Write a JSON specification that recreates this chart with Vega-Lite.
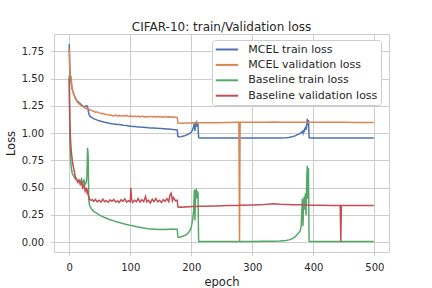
{
  "$schema": "https://vega.github.io/schema/vega-lite/v6.json",
  "width": 335,
  "height": 218,
  "autosize": "none",
  "padding": {"left": 54, "top": 34, "right": 43, "bottom": 36},
  "background": "white",
  "title": {"text": "CIFAR-10: train/Validation loss", "fontSize": 12, "font": "DejaVu Sans", "fontWeight": "normal", "color": "#262626", "offset": 0, "dy": -0.5, "anchor": "middle"},
  "data": {"values": [
    {"e":0,"mt":1.817,"mv":1.77,"bt":1.53,"bv":1.50},
    {"e":1,"mt":1.60,"mv":1.56,"bt":0.95,"bv":1.12},
    {"e":2,"mt":1.52,"mv":1.50,"bt":0.78,"bv":0.95},
    {"e":3,"mt":1.47,"mv":1.52,"bt":0.70,"bv":0.86},
    {"e":4,"mt":1.43,"mv":1.45,"bt":0.66,"bv":0.80},
    {"e":5,"mt":1.40,"mv":1.41,"bt":0.63,"bv":0.75},
    {"e":6,"mt":1.38,"mv":1.38,"bt":0.62,"bv":0.71},
    {"e":8,"mt":1.35,"mv":1.35,"bt":0.60,"bv":0.66},
    {"e":10,"mt":1.32,"mv":1.32,"bt":0.58,"bv":0.60},
    {"e":12,"mt":1.30,"mv":1.30,"bt":0.57,"bv":0.58},
    {"e":14,"mt":1.29,"mv":1.28,"bt":0.56,"bv":0.55},
    {"e":16,"mt":1.28,"mv":1.27,"bt":0.56,"bv":0.57},
    {"e":18,"mt":1.27,"mv":1.26,"bt":0.55,"bv":0.53},
    {"e":20,"mt":1.26,"mv":1.25,"bt":0.58,"bv":0.55},
    {"e":22,"mt":1.25,"mv":1.245,"bt":0.54,"bv":0.50},
    {"e":24,"mt":1.24,"mv":1.235,"bt":0.57,"bv":0.53},
    {"e":26,"mt":1.245,"mv":1.23,"bt":0.53,"bv":0.47},
    {"e":28,"mt":1.25,"mv":1.225,"bt":0.55,"bv":0.50},
    {"e":29,"mt":1.25,"mv":1.22,"bt":0.60,"bv":0.46},
    {"e":30,"mt":1.24,"mv":1.225,"bt":0.865,"bv":0.47},
    {"e":31,"mt":1.21,"mv":1.22,"bt":0.80,"bv":0.43},
    {"e":32,"mt":1.18,"mv":1.22,"bt":0.39,"bv":0.42},
    {"e":33,"mt":1.165,"mv":1.215,"bt":0.35,"bv":0.40},
    {"e":34,"mt":1.155,"mv":1.215,"bt":0.33,"bv":0.39},
    {"e":36,"mt":1.146,"mv":1.208,"bt":0.31,"bv":0.385},
    {"e":38,"mt":1.139,"mv":1.204,"bt":0.295,"bv":0.39},
    {"e":40,"mt":1.133,"mv":1.200,"bt":0.284,"bv":0.375},
    {"e":43,"mt":1.126,"mv":1.192,"bt":0.274,"bv":0.392},
    {"e":46,"mt":1.119,"mv":1.194,"bt":0.262,"bv":0.37},
    {"e":49,"mt":1.114,"mv":1.185,"bt":0.251,"bv":0.385},
    {"e":52,"mt":1.108,"mv":1.180,"bt":0.242,"bv":0.368},
    {"e":55,"mt":1.105,"mv":1.182,"bt":0.235,"bv":0.395},
    {"e":58,"mt":1.100,"mv":1.172,"bt":0.227,"bv":0.372},
    {"e":61,"mt":1.097,"mv":1.170,"bt":0.220,"bv":0.382},
    {"e":64,"mt":1.092,"mv":1.165,"bt":0.213,"bv":0.365},
    {"e":67,"mt":1.089,"mv":1.166,"bt":0.207,"bv":0.388},
    {"e":70,"mt":1.086,"mv":1.161,"bt":0.201,"bv":0.375},
    {"e":73,"mt":1.084,"mv":1.158,"bt":0.196,"bv":0.392},
    {"e":76,"mt":1.082,"mv":1.165,"bt":0.190,"bv":0.37},
    {"e":79,"mt":1.080,"mv":1.156,"bt":0.186,"bv":0.38},
    {"e":82,"mt":1.078,"mv":1.162,"bt":0.181,"bv":0.366},
    {"e":85,"mt":1.076,"mv":1.154,"bt":0.176,"bv":0.39},
    {"e":88,"mt":1.073,"mv":1.160,"bt":0.172,"bv":0.375},
    {"e":91,"mt":1.071,"mv":1.157,"bt":0.167,"bv":0.398},
    {"e":94,"mt":1.069,"mv":1.163,"bt":0.163,"bv":0.368},
    {"e":97,"mt":1.066,"mv":1.152,"bt":0.159,"bv":0.382},
    {"e":100,"mt":1.063,"mv":1.158,"bt":0.155,"bv":0.37},
    {"e":101,"mt":1.063,"mv":1.160,"bt":0.154,"bv":0.50},
    {"e":102,"mt":1.062,"mv":1.154,"bt":0.153,"bv":0.40},
    {"e":104,"mt":1.061,"mv":1.150,"bt":0.151,"bv":0.365},
    {"e":107,"mt":1.060,"mv":1.157,"bt":0.147,"bv":0.385},
    {"e":110,"mt":1.058,"mv":1.151,"bt":0.143,"bv":0.372},
    {"e":113,"mt":1.057,"mv":1.156,"bt":0.140,"bv":0.40},
    {"e":116,"mt":1.055,"mv":1.149,"bt":0.137,"bv":0.368},
    {"e":119,"mt":1.054,"mv":1.155,"bt":0.134,"bv":0.39},
    {"e":122,"mt":1.053,"mv":1.152,"bt":0.131,"bv":0.372},
    {"e":125,"mt":1.051,"mv":1.146,"bt":0.128,"bv":0.42},
    {"e":127,"mt":1.051,"mv":1.153,"bt":0.127,"bv":0.37},
    {"e":130,"mt":1.049,"mv":1.150,"bt":0.124,"bv":0.385},
    {"e":133,"mt":1.048,"mv":1.154,"bt":0.122,"bv":0.36},
    {"e":136,"mt":1.047,"mv":1.147,"bt":0.121,"bv":0.395},
    {"e":139,"mt":1.046,"mv":1.152,"bt":0.120,"bv":0.372},
    {"e":142,"mt":1.045,"mv":1.148,"bt":0.119,"bv":0.40},
    {"e":145,"mt":1.044,"mv":1.153,"bt":0.118,"bv":0.37},
    {"e":148,"mt":1.043,"mv":1.146,"bt":0.118,"bv":0.385},
    {"e":151,"mt":1.042,"mv":1.150,"bt":0.117,"bv":0.365},
    {"e":154,"mt":1.040,"mv":1.145,"bt":0.118,"bv":0.39},
    {"e":157,"mt":1.039,"mv":1.151,"bt":0.119,"bv":0.375},
    {"e":160,"mt":1.038,"mv":1.147,"bt":0.118,"bv":0.40},
    {"e":163,"mt":1.037,"mv":1.150,"bt":0.120,"bv":0.372},
    {"e":165,"mt":1.036,"mv":1.145,"bt":0.119,"bv":0.43},
    {"e":167,"mt":1.035,"mv":1.149,"bt":0.121,"bv":0.45},
    {"e":169,"mt":1.034,"mv":1.146,"bt":0.120,"bv":0.38},
    {"e":171,"mt":1.033,"mv":1.148,"bt":0.121,"bv":0.41},
    {"e":174,"mt":1.032,"mv":1.145,"bt":0.120,"bv":0.38},
    {"e":177,"mt":1.030,"mv":1.143,"bt":0.119,"bv":0.385},
    {"e":178,"mt":0.970,"mv":1.094,"bt":0.049,"bv":0.325},
    {"e":180,"mt":0.965,"mv":1.092,"bt":0.045,"bv":0.322},
    {"e":183,"mt":0.968,"mv":1.090,"bt":0.050,"bv":0.324},
    {"e":186,"mt":0.972,"mv":1.091,"bt":0.055,"bv":0.322},
    {"e":189,"mt":0.976,"mv":1.092,"bt":0.062,"bv":0.325},
    {"e":192,"mt":0.982,"mv":1.092,"bt":0.070,"bv":0.323},
    {"e":195,"mt":0.990,"mv":1.093,"bt":0.085,"bv":0.326},
    {"e":198,"mt":1.000,"mv":1.093,"bt":0.110,"bv":0.325},
    {"e":200,"mt":1.008,"mv":1.093,"bt":0.140,"bv":0.327},
    {"e":202,"mt":1.030,"mv":1.094,"bt":0.200,"bv":0.328},
    {"e":204,"mt":1.060,"mv":1.093,"bt":0.300,"bv":0.327},
    {"e":205,"mt":1.100,"mv":1.094,"bt":0.480,"bv":0.328},
    {"e":206,"mt":1.020,"mv":1.093,"bt":0.200,"bv":0.328},
    {"e":207,"mt":1.080,"mv":1.094,"bt":0.460,"bv":0.329},
    {"e":208,"mt":1.095,"mv":1.093,"bt":0.490,"bv":0.328},
    {"e":209,"mt":1.060,"mv":1.094,"bt":0.400,"bv":0.329},
    {"e":210,"mt":1.090,"mv":1.094,"bt":0.470,"bv":0.33},
    {"e":211,"mt":1.080,"mv":1.093,"bt":0.450,"bv":0.329},
    {"e":212,"mt":0.960,"mv":1.094,"bt":0.010,"bv":0.33},
    {"e":213,"mt":0.955,"mv":1.094,"bt":0.008,"bv":0.33},
    {"e":220,"mt":0.955,"mv":1.095,"bt":0.008,"bv":0.331},
    {"e":240,"mt":0.955,"mv":1.096,"bt":0.008,"bv":0.333},
    {"e":260,"mt":0.955,"mv":1.098,"bt":0.008,"bv":0.336},
    {"e":275,"mt":0.955,"mv":1.099,"bt":0.008,"bv":0.338},
    {"e":278,"mt":0.955,"mv":1.099,"bt":0.008,"bv":0.338},
    {"e":279,"mt":0.955,"mv":0.005,"bt":0.008,"bv":0.339},
    {"e":280,"mt":0.955,"mv":1.100,"bt":0.008,"bv":0.339},
    {"e":300,"mt":0.955,"mv":1.10,"bt":0.008,"bv":0.342},
    {"e":320,"mt":0.955,"mv":1.10,"bt":0.009,"bv":0.346},
    {"e":335,"mt":0.955,"mv":1.101,"bt":0.010,"bv":0.352},
    {"e":345,"mt":0.955,"mv":1.10,"bt":0.012,"bv":0.348},
    {"e":355,"mt":0.957,"mv":1.10,"bt":0.016,"bv":0.346},
    {"e":360,"mt":0.960,"mv":1.10,"bt":0.022,"bv":0.345},
    {"e":365,"mt":0.966,"mv":1.10,"bt":0.032,"bv":0.344},
    {"e":370,"mt":0.975,"mv":1.10,"bt":0.050,"bv":0.344},
    {"e":375,"mt":0.988,"mv":1.10,"bt":0.080,"bv":0.343},
    {"e":378,"mt":0.995,"mv":1.10,"bt":0.100,"bv":0.343},
    {"e":380,"mt":1.005,"mv":1.10,"bt":0.140,"bv":0.343},
    {"e":382,"mt":1.015,"mv":1.10,"bt":0.40,"bv":0.342},
    {"e":383,"mt":1.00,"mv":1.10,"bt":0.15,"bv":0.343},
    {"e":384,"mt":1.03,"mv":1.10,"bt":0.35,"bv":0.342},
    {"e":385,"mt":1.01,"mv":1.10,"bt":0.42,"bv":0.342},
    {"e":386,"mt":1.04,"mv":1.10,"bt":0.30,"bv":0.342},
    {"e":387,"mt":1.05,"mv":1.10,"bt":0.45,"bv":0.341},
    {"e":388,"mt":1.03,"mv":1.10,"bt":0.25,"bv":0.341},
    {"e":389,"mt":1.06,"mv":1.10,"bt":0.55,"bv":0.341},
    {"e":390,"mt":1.13,"mv":1.10,"bt":0.70,"bv":0.341},
    {"e":391,"mt":1.07,"mv":1.10,"bt":0.40,"bv":0.341},
    {"e":392,"mt":1.12,"mv":1.10,"bt":0.68,"bv":0.34},
    {"e":393,"mt":0.96,"mv":1.10,"bt":0.010,"bv":0.34},
    {"e":394,"mt":0.955,"mv":1.10,"bt":0.008,"bv":0.34},
    {"e":410,"mt":0.955,"mv":1.099,"bt":0.008,"bv":0.339},
    {"e":430,"mt":0.955,"mv":1.099,"bt":0.008,"bv":0.338},
    {"e":444,"mt":0.955,"mv":1.099,"bt":0.008,"bv":0.338},
    {"e":445,"mt":0.955,"mv":1.099,"bt":0.008,"bv":0.008},
    {"e":446,"mt":0.955,"mv":1.099,"bt":0.008,"bv":0.337},
    {"e":470,"mt":0.955,"mv":1.098,"bt":0.008,"bv":0.337},
    {"e":499,"mt":0.955,"mv":1.098,"bt":0.008,"bv":0.336}
  ]},
  "transform": [{"fold": ["mt", "mv", "bt", "bv"], "as": ["series", "loss"]}],
  "mark": {"type": "line", "strokeWidth": 1.5, "clip": true},
  "encoding": {
    "x": {"field": "e", "type": "quantitative",
      "scale": {"domain": [-24.95, 523.95], "nice": false, "zero": false},
      "axis": {"title": "epoch", "values": [0, 100, 200, 300, 400, 500]}},
    "y": {"field": "loss", "type": "quantitative",
      "scale": {"domain": [-0.089, 1.908], "nice": false, "zero": false},
      "axis": {"title": "Loss", "values": [0, 0.25, 0.5, 0.75, 1, 1.25, 1.5, 1.75], "format": ".2f"}},
    "color": {"field": "series", "type": "nominal",
      "scale": {"domain": ["mt", "mv", "bt", "bv"], "range": ["#4c72b0", "#dd8452", "#55a868", "#c44e52"]},
      "legend": {
        "orient": "none", "legendX": 158, "legendY": 6, "direction": "vertical", "title": null,
        "labelExpr": "{'mt': 'MCEL train loss', 'mv': 'MCEL validation loss', 'bt': 'Baseline train loss', 'bv': 'Baseline validation loss'}[datum.label]",
        "symbolType": "M-1.16,0H3.3", "symbolSize": 100, "symbolStrokeWidth": 2,
        "labelFontSize": 11, "labelFont": "DejaVu Sans", "labelColor": "#262626", "labelOffset": 20.8,
        "rowPadding": 4.4, "padding": 3.5, "strokeColor": "#cccccc", "fillColor": "white", "cornerRadius": 3
      }}
  },
  "config": {
    "view": {"stroke": "#cccccc", "strokeWidth": 1},
    "axis": {
      "domain": false, "grid": true, "gridColor": "#cccccc", "gridWidth": 1,
      "tickColor": "#cccccc", "tickSize": 3.5,
      "labelFont": "DejaVu Sans", "labelFontSize": 10, "labelColor": "#262626", "labelPadding": 7,
      "titleFont": "DejaVu Sans", "titleFontSize": 11.5, "titleFontWeight": "normal", "titleColor": "#262626"
    },
    "axisY": {"labelPadding": 7, "titlePadding": 5},
    "axisX": {"titlePadding": 3.5}
  }
}
